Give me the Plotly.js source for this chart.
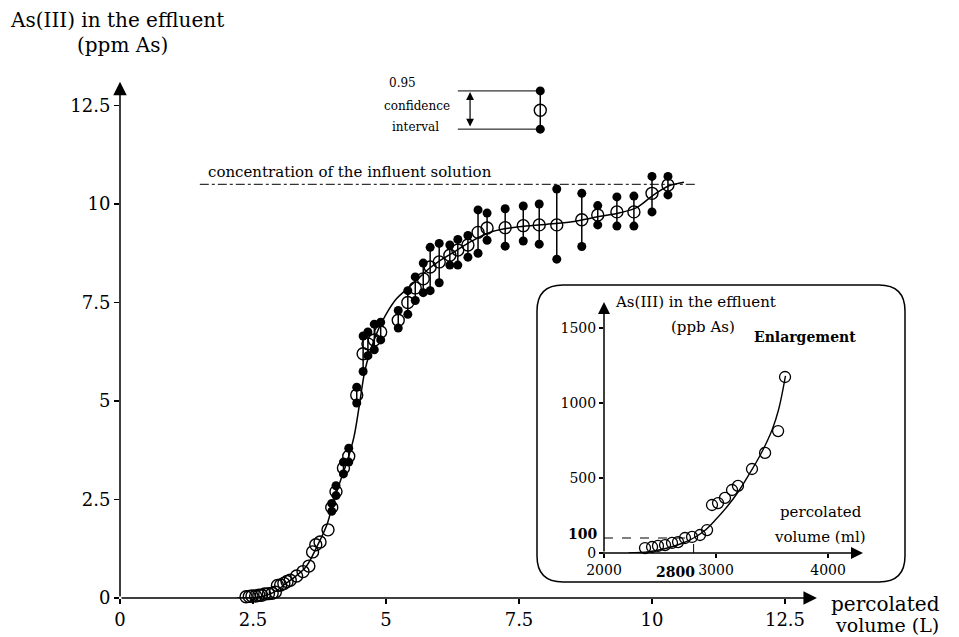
<!DOCTYPE html>
<html><head><meta charset="utf-8">
<script src="https://cdn.plot.ly/plotly-3.0.1.min.js"></script>
<style>html,body{margin:0;padding:0;background:#fff}#chart{width:959px;height:637px}</style>
</head><body><div id="chart"></div>
<script>
// ---------- data ----------
// main plot: percolated volume (L) vs As(III) (ppm As)
const lowX = [2.37,2.43,2.48,2.55,2.61,2.66,2.72,2.79,2.86,2.92,2.96,3.02,3.08,3.14,3.2,3.32,3.44,3.55,3.62,3.68,3.76,3.91];
const lowY = [0.03,0.04,0.05,0.05,0.07,0.07,0.1,0.11,0.12,0.15,0.32,0.33,0.37,0.42,0.45,0.56,0.67,0.81,1.17,1.35,1.42,1.73];

const ciX  = [3.98,4.06,4.2,4.3,4.45,4.57,4.66,4.78,4.9,5.23,5.41,5.55,5.7,5.83,6.0,6.2,6.35,6.54,6.73,6.9,7.24,7.58,7.88,8.21,8.68,8.98,9.34,9.66,10.0,10.3];
const ciY  = [2.3,2.7,3.3,3.6,5.15,6.2,6.45,6.55,6.75,7.05,7.5,7.87,8.1,8.4,8.53,8.7,8.83,8.96,9.28,9.39,9.4,9.45,9.47,9.47,9.6,9.72,9.8,9.8,10.27,10.48];
const ciLo = [2.2,2.6,3.15,3.45,4.95,5.75,6.15,6.3,6.55,6.85,7.2,7.55,7.75,7.8,8.0,8.45,8.45,8.65,8.75,9.08,8.93,9.06,8.98,8.6,8.92,9.47,9.44,9.44,9.8,10.23];
const ciHi = [2.4,2.85,3.45,3.8,5.35,6.65,6.75,6.95,7.0,7.3,7.8,8.15,8.5,8.9,9.0,8.96,9.1,9.2,9.85,9.77,9.88,9.95,10.0,10.38,10.27,9.96,10.18,10.2,10.7,10.7];

const fitX = [2.2,2.6,2.9,3.1,3.3,3.5,3.7,3.9,4.0,4.15,4.3,4.4,4.5,4.6,4.7,4.85,5.0,5.2,5.4,5.6,5.8,6.0,6.3,6.6,7.0,7.5,8.0,8.5,9.0,9.4,9.7,10.0,10.3,10.6];
const fitY = [0,0.02,0.15,0.35,0.55,0.8,1.3,1.9,2.4,3.0,3.6,4.1,4.9,5.75,6.25,6.8,7.2,7.6,7.85,8.1,8.35,8.55,8.8,9.05,9.3,9.42,9.48,9.55,9.68,9.78,9.9,10.2,10.45,10.55];

const influent = 10.5, influentFrom = 1.5, influentTo = 10.85;

const mainTickVals = [0,2.5,5,7.5,10,12.5];
const mainTickText = ['0','2.5','5','7.5','10','12.5'];

// confidence-interval key
const keyX = 7.9, keyY = 12.38, keyLo = 11.9, keyHi = 12.87, keyLineFrom = 6.35, keyArrowX = 6.58;

// inset: percolated volume (ml) vs As(III) (ppb As)
const insetX = [2366,2429,2482,2545,2607,2661,2723,2786,2857,2920,2964,3018,3080,3143,3196,3321,3438,3554,3616];
const insetY = [33,40,47,53,67,73,100,107,120,153,320,333,367,420,447,560,667,813,1173];
const insetFitX = [2220,2400,2550,2700,2800,2900,3000,3100,3200,3300,3400,3500,3560,3620];
const insetFitY = [0,8,30,65,100,150,225,310,410,530,660,820,960,1180];
const insetYTicks = [0,500,1000,1500];
const insetXTicks = [2000,3000,4000];
const insetThrX = 2800, insetThrY = 100;

// ---------- layout helpers ----------
const W = 959, H = 637;
const px = v => v / W, py = v => 1 - v / H;
const FONT = 'DejaVu Serif';
const K = '#000';

function roundRect(x0,y0,x1,y1,r){
  const P = (a,b)=> px(a).toFixed(5)+','+py(b).toFixed(5);
  return 'M'+P(x0+r,y0)+' L'+P(x1-r,y0)+' Q'+P(x1,y0)+' '+P(x1,y0+r)+
         ' L'+P(x1,y1-r)+' Q'+P(x1,y1)+' '+P(x1-r,y1)+
         ' L'+P(x0+r,y1)+' Q'+P(x0,y1)+' '+P(x0,y1-r)+
         ' L'+P(x0,y0+r)+' Q'+P(x0,y0)+' '+P(x0+r,y0)+' Z';
}

const traces = [
  {x: fitX, y: fitY, mode:'lines', line:{color:K, width:1.5, shape:'spline'}, xaxis:'x', yaxis:'y', cliponaxis:false},
  {x: ciX, y: ciY, mode:'markers', marker:{size:0.1, color:'rgba(0,0,0,0)'},
   error_y:{type:'data', symmetric:false, array: ciHi.map((h,i)=>h-ciY[i]), arrayminus: ciLo.map((l,i)=>ciY[i]-l), width:0, thickness:1.5, color:K}},
  {x: ciX.concat(ciX), y: ciLo.concat(ciHi), mode:'markers', marker:{symbol:'circle', size:9, color:K}, cliponaxis:false},
  {x: lowX.concat(ciX), y: lowY.concat(ciY), mode:'markers', marker:{symbol:'circle-open', size:12, color:K, line:{width:1.4, color:K}}, cliponaxis:false},
  // key
  {x: [keyX], y: [keyY], mode:'markers', marker:{symbol:'circle-open', size:12, color:K, line:{width:1.4,color:K}},
   error_y:{type:'data', symmetric:false, array:[keyHi-keyY], arrayminus:[keyY-keyLo], width:0, thickness:1.5, color:K}, cliponaxis:false},
  {x: [keyX,keyX], y: [keyLo,keyHi], mode:'markers', marker:{symbol:'circle', size:9, color:K}, cliponaxis:false},
  // inset
  {x: insetFitX, y: insetFitY, mode:'lines', line:{color:K, width:1.4, shape:'spline'}, xaxis:'x2', yaxis:'y2', cliponaxis:false},
  {x: insetX, y: insetY, mode:'markers', marker:{symbol:'circle-open', size:11, color:K, line:{width:1.3,color:K}}, xaxis:'x2', yaxis:'y2', cliponaxis:false}
];

const tickFont = {family: FONT, size: 18, color: K};
const insetTickFont = {family: FONT, size: 14, color: K};

function arrow(x,y,ax,ay,xr,yr){
  return {x:x, y:y, ax:ax, ay:ay, xref:xr, yref:yr, axref:xr, ayref:yr, text:'', showarrow:true,
          arrowhead:2, arrowsize:1.8, arrowwidth:1.5, arrowcolor:K, standoff:0, startstandoff:0};
}
function label(t, x, y, size, anchor, bold){
  return {text: bold ? '<b>'+t+'</b>' : t, x: px(x), y: py(y), xref:'paper', yref:'paper', showarrow:false,
          xanchor: anchor || 'center', yanchor:'middle', font:{family:FONT, size:size, color:K}};
}

const layout = {
  width: W, height: H, margin:{l:0,r:0,t:0,b:0}, paper_bgcolor:'#fff', plot_bgcolor:'rgba(0,0,0,0)',
  showlegend:false, hovermode:false,
  xaxis:{domain:[px(120),1], range:[0,(W-120)/53.2], showgrid:false, zeroline:false, showline:false,
         tickvals:mainTickVals, ticktext:mainTickText, ticks:'outside', ticklen:5, tickwidth:1.5, tickcolor:K, tickfont:tickFont, anchor:'y'},
  yaxis:{domain:[(H-598)/H,1], range:[0,598/39.4], showgrid:false, zeroline:false, showline:false,
         tickvals:mainTickVals, ticktext:mainTickText, ticks:'outside', ticklen:5, tickwidth:1.5, tickcolor:K, tickfont:tickFont, anchor:'x'},
  xaxis2:{domain:[px(604),px(863)], range:[2000,4312], showgrid:false, zeroline:false, showline:false,
          tickvals:insetXTicks, ticktext:insetXTicks.map(String), ticks:'outside', ticklen:4, tickwidth:1.3, tickcolor:K, tickfont:insetTickFont, anchor:'y2'},
  yaxis2:{domain:[(H-553)/H,(H-302)/H], range:[0,1673], showgrid:false, zeroline:false, showline:false,
          tickvals:insetYTicks, ticktext:insetYTicks.map(String), ticks:'outside', ticklen:4, tickwidth:1.3, tickcolor:K, tickfont:insetTickFont, anchor:'x2'},
  shapes:[
    {type:'path', path: roundRect(537,285,905,582,26), xref:'paper', yref:'paper', line:{color:K,width:1.5}, fillcolor:'#fff', layer:'below'},
    {type:'line', xref:'x', yref:'y', x0:influentFrom, x1:influentTo, y0:influent, y1:influent, line:{color:K, width:1, dash:'dashdot'}},
    {type:'line', xref:'x', yref:'y', x0:keyLineFrom, x1:keyX, y0:keyHi, y1:keyHi, line:{color:K, width:1}},
    {type:'line', xref:'x', yref:'y', x0:keyLineFrom, x1:keyX, y0:keyLo, y1:keyLo, line:{color:K, width:1}},
    {type:'line', xref:'x2', yref:'y2', x0:2000, x1:insetThrX, y0:insetThrY, y1:insetThrY, line:{color:K, width:1, dash:'dash'}},
    {type:'line', xref:'x2', yref:'y2', x0:insetThrX, x1:insetThrX, y0:0, y1:insetThrY, line:{color:K, width:1, dash:'dash'}}
  ],
  annotations:[
    arrow(13.1,0,0,0,'x','y'),
    arrow(0,13.1,0,0,'x','y'),
    Object.assign(arrow(4312,0,1960,0,'x2','y2'), {arrowsize:1.6}),
    Object.assign(arrow(2000,1673,2000,0,'x2','y2'), {arrowsize:1.6}),
    Object.assign(arrow(keyArrowX,keyHi-0.03,keyArrowX,keyLo+0.03,'x','y'), {arrowside:'end+start', arrowsize:1.3, arrowwidth:1.2}),
    {text:'<b>2800</b>', x:insetThrX, y:0, xref:'x2', yref:'y2', showarrow:false, xanchor:'center', yanchor:'top', xshift:-18, yshift:-9, font:insetTickFont},
    {text:'<b>100</b>', x:2000, y:insetThrY, xref:'x2', yref:'y2', showarrow:false, xanchor:'right', yanchor:'middle', xshift:-5, yshift:4, font:insetTickFont},
    label('As(III) in the effluent', 8, 20, 20, 'left'),
    label('(ppm As)', 122, 45, 20),
    label('percolated', 885, 604, 20),
    label('volume (L)', 887, 625, 19),
    label('concentration of the influent solution', 206, 172, 15, 'left'),
    label('0.95', 402, 83, 12),
    label('confidence', 417, 106, 12),
    label('interval', 415, 127, 12),
    label('As(III) in the effluent', 695, 302, 15),
    label('(ppb As)', 703, 327, 15),
    label('Enlargement', 805, 337, 14, 'center', true),
    label('percolated', 821, 512, 15),
    label('volume (ml)', 820, 537, 15)
  ]
};

Plotly.newPlot('chart', traces, layout, {displayModeBar:false, staticPlot:true});
</script>
</body></html>
